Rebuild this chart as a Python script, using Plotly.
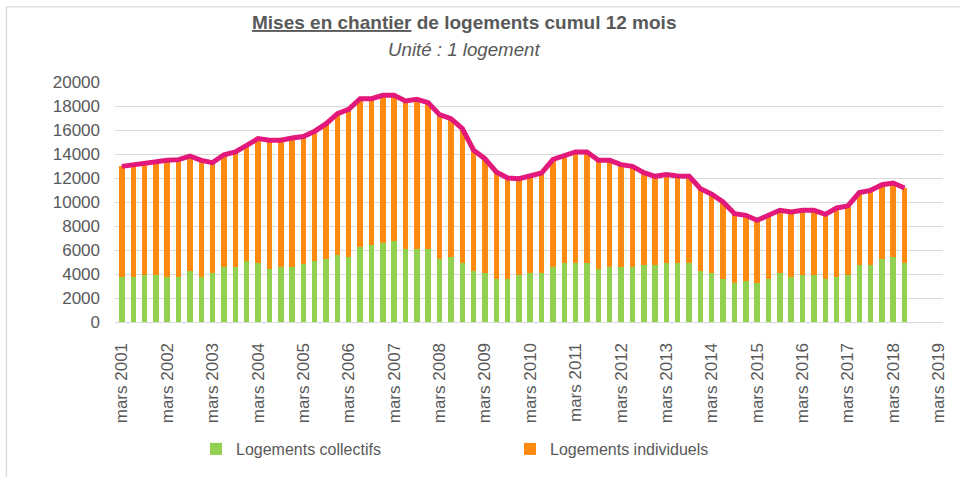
import plotly.graph_objects as go
import pandas as pd

# ---------------- data ----------------
start_quarter = "2001-03-01"
n_quarters = 70
quarters = pd.date_range(start_quarter, periods=n_quarters, freq="3MS")

collectifs = [3750, 3720, 3890, 3890, 3720, 3720, 4220, 3720, 4060, 4560,
              4560, 5060, 4890, 4390, 4560, 4560, 4870, 5060, 5220, 5560,
              5390, 6220, 6390, 6560, 6720, 6060, 6060, 6060, 5220, 5390,
              4890, 4220, 4060, 3560, 3560, 3890, 4060, 4060, 4560, 4890,
              4890, 4890, 4390, 4560, 4560, 4560, 4720, 4720, 4890, 4890,
              4890, 4220, 4060, 3560, 3220, 3390, 3220, 3560, 4060, 3720,
              3890, 3890, 3560, 3720, 3890, 4720, 4720, 5220, 5390, 4890]

individuels = [9220, 9390, 9390, 9440, 9750, 9810, 9610, 9750, 9220, 9380,
               9610, 9660, 10390, 10750, 10580, 10770, 10580, 10840, 11310, 11800,
               12330, 12390, 12220, 12330, 12170, 12360, 12500, 12220, 12060, 11550,
               11220, 10090, 9550, 8940, 8440, 8050, 8160, 8360, 9000, 8940,
               9280, 9280, 9080, 8910, 8550, 8410, 7720, 7420, 7390, 7280,
               7250, 6890, 6590, 6440, 5810, 5500, 5250, 5330, 5250, 5450,
               5420, 5420, 5410, 5780, 5780, 6060, 6250, 6220, 6190, 6280]

total = [c + i for c, i in zip(collectifs, individuels)]

tick_years = list(range(2001, 2020))
tick_dates = [pd.Timestamp(f"{y}-03-01") for y in tick_years]
tick_labels = [f"mars {y}" for y in tick_years]

y_ticks = list(range(0, 20001, 2000))

# ---------------- styles ----------------
GREEN = "#92D050"
ORANGE = "#FF8A12"
PINK = "#E2197A"
GREY_TXT = "#595959"
GRID = "#D9D9D9"
FONT = "Liberation Sans, Arial, sans-serif"

quarter_ms = 91.3 * 24 * 3600 * 1000
bar_width = 0.48 * quarter_ms

fig = go.Figure()
fig.add_trace(go.Bar(x=quarters, y=collectifs, name="Logements collectifs",
                     marker=dict(color=GREEN, line=dict(width=0)),
                     width=bar_width, legend="legend"))
fig.add_trace(go.Bar(x=quarters, y=individuels, name="Logements individuels",
                     marker=dict(color=ORANGE, line=dict(width=0)),
                     width=bar_width, legend="legend2"))
fig.add_trace(go.Scatter(x=quarters, y=total, mode="lines", name="Total",
                         line=dict(color=PINK, width=5), showlegend=False))

# plot area in pixels: left 115, right 943, top 82, bottom 323
L, R, T, B = 115, 943, 82, 323
W, H = 960, 477
pw, ph = R - L, B - T


def px_x(px):
    return (px - L) / pw


def px_y(py):
    return (B - py) / ph


fig.update_layout(
    width=W, height=H,
    margin=dict(l=L, r=W - R, t=T, b=H - B, pad=0),
    paper_bgcolor="white", plot_bgcolor="white",
    barmode="stack",
    font=dict(family=FONT, color=GREY_TXT),
    xaxis=dict(
        type="date",
        range=["2001-01-05", "2019-04-06"],
        tickvals=tick_dates, ticktext=tick_labels,
        tickangle=-90, tickfont=dict(size=17, color=GREY_TXT, family=FONT),
        showgrid=False, zeroline=False,
        showline=True, linecolor=GRID, linewidth=1.3,
        ticks="", ticklabelstandoff=13,
    ),
    yaxis=dict(
        range=[0, 20000], tickvals=y_ticks, tickformat="d",
        tickfont=dict(size=17, color=GREY_TXT, family=FONT),
        showgrid=True, gridcolor=GRID, gridwidth=1.3,
        zeroline=False, showline=False, ticks="",
        ticklabelstandoff=14,
    ),
    legend=dict(x=px_x(196), y=px_y(449), xanchor="left", yanchor="middle",
                orientation="h", font=dict(size=16, color=GREY_TXT, family=FONT),
                bgcolor="rgba(0,0,0,0)"),
    legend2=dict(x=px_x(510), y=px_y(449), xanchor="left", yanchor="middle",
                 orientation="h", font=dict(size=16, color=GREY_TXT, family=FONT),
                 bgcolor="rgba(0,0,0,0)"),
    showlegend=True,
    annotations=[
        dict(text="<b><u>Mises en chantier</u> de logements cumul 12 mois</b>",
             x=px_x(464), y=px_y(22.5), xref="paper", yref="paper",
             xanchor="center", yanchor="middle", showarrow=False,
             font=dict(size=19, color=GREY_TXT, family=FONT)),
        dict(text="<i>Unité : 1 logement</i>",
             x=px_x(464), y=px_y(49.5), xref="paper", yref="paper",
             xanchor="center", yanchor="middle", showarrow=False,
             font=dict(size=18.7, color=GREY_TXT, family=FONT)),
    ],
    shapes=[
        dict(type="rect", xref="paper", yref="paper",
             x0=px_x(6.5), x1=px_x(970), y0=px_y(490), y1=px_y(6.5),
             line=dict(color=GRID, width=1.3), fillcolor="rgba(0,0,0,0)",
             layer="below"),
    ],
)

fig.write_html("out.html", config={"displayModeBar": False},
               post_script="document.body.style.margin='0';")
